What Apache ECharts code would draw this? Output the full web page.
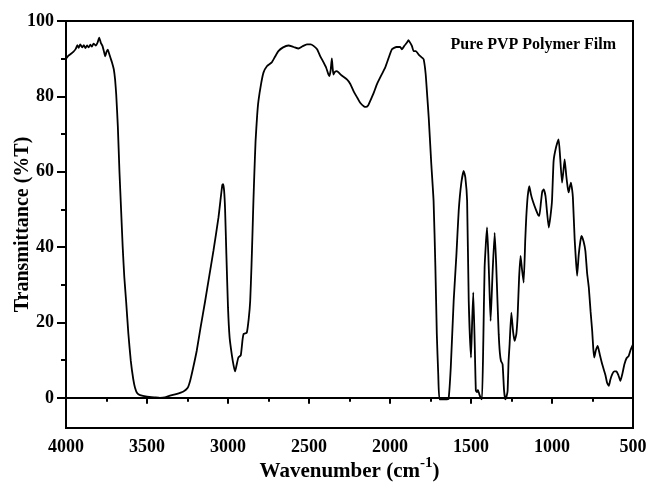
<!DOCTYPE html>
<html>
<head>
<meta charset="utf-8">
<script src="https://cdn.jsdelivr.net/npm/echarts@6/dist/echarts.min.js"></script>
<style>
html,body{margin:0;padding:0;background:#fff;}
#c{width:648px;height:491px;}
</style>
</head>
<body>
<div id="c"></div>
<script>
const wavenumbers = [
4000,3985,3970,3955,3940,3930,3922,3912,3900,3890,3880,3870,3860,3850,3840,3830,3815,3805,3795,3785,3775,3765,3758,3750,3742,3735,3726,3716,3705,3697,3690,3680,3670,3660,3650,3640,3629,3615,3600,3585,3574,3560,3543,3500,3450,3420,3390,3358,3320,3275,3250,3234,3215,3193,3170,3141,3115,3090,3059,3045,3035,3030,3024,3018,3010,3000,2990,2975,2965,2956,2948,2936,2921,2910,2903,2884,2872,2863,2855,2849,2843,2837,2830,2820,2812,2795,2781,2760,2730,2710,2689,2660,2627,2595,2565,2540,2513,2490,2472,2450,2431,2410,2394,2380,2374,2366,2359,2354,2349,2340,2328,2300,2266,2245,2225,2200,2184,2160,2149,2135,2122,2100,2081,2055,2030,2010,1988,1960,1937,1927,1910,1895,1886,1875,1865,1854,1840,1823,1800,1792,1780,1770,1761,1745,1731,1720,1711,1702,1694,1660,1639,1625,1607,1590,1576,1560,1545,1535,1524,1514,1500,1493,1486,1477,1470,1463,1457,1449,1440,1432,1424,1416,1401,1393,1387,1379,1367,1354,1345,1336,1329,1322,1315,1305,1296,1288,1280,1274,1268,1262,1251,1240,1231,1220,1212,1203,1194,1185,1175,1165,1159,1150,1140,1130,1119,1100,1085,1078,1068,1060,1051,1040,1030,1020,1010,1000,990,975,959,950,938,930,922,912,903,897,890,883,875,871,860,853,845,835,825,818,805,794,783,773,762,752,745,739,730,718,705,690,670,660,649,640,628,615,602,590,578,565,553,540,527,515,500
];
const transmittance = [
90.0,90.8,91.3,91.8,92.6,93.6,92.9,93.8,93.0,93.6,92.8,93.5,93.0,93.7,93.2,94.0,93.5,94.3,95.6,94.2,93.4,91.8,90.6,91.8,92.4,91.5,90.3,89.0,87.2,84.5,80.5,72,60,50,40,32,25.7,17,9.8,5,2.7,1.2,0.7,0.3,0.1,0.0,0.1,0.6,1.0,1.7,2.6,4.5,8,12.5,18.5,25.7,32.5,39,47.8,53,56.5,56.7,55,50,38,24,16,11,8.5,7,8.5,10.7,11.3,15.5,17,17.3,21,25.7,35,43.4,52.3,60,68,75,78.8,83.5,86.3,88,89,90.5,92,93,93.5,93.1,92.7,93.3,93.8,93.8,93.4,92.5,90.7,89,87.6,85.8,85.4,87,90.1,87.5,85.8,86.5,86.7,85.6,84.5,83.3,81.4,79.5,78.3,77.3,77.2,77.6,78.8,81,83.2,85.5,87.6,90,92.5,93.1,93.1,92.5,93.5,94.3,94.9,94.2,93.4,92,92.0,91.1,90.2,89.8,86,80,74.4,62,52.3,35,16.9,6,-0.4,-0.4,-0.3,8,25.7,38,49.6,57,60.2,58.5,52.3,25.7,10.7,20,28,14.2,1.9,1.5,2.1,1.0,0.0,-0.4,15,34.6,45.2,38,30.2,20.4,33,43.8,36,25,16.9,12,9.8,8.9,2,-0.4,0.5,1.9,9.8,14,22.6,17.5,15.1,17,22,32,37.7,34,30.6,42,47.8,53.5,56.2,54,52.3,50,48.5,48.3,52,54.8,55.3,53.5,49,45.2,48,52.3,62.9,66.5,68.6,64,57.1,60,63.3,59,55.8,54.5,56,57.1,55,53.1,42,37,32.4,38,41.5,43,41.5,39,33,29.4,23,17.8,13,10.7,12.5,13.8,11.5,8.9,6,4,3.2,4.8,6.3,7,7,6,4.5,6.5,8.9,10.5,11.1,12.7,14.2
];
const yMajorTicks = [0, 20, 40, 60, 80, 100];
const yMinorTicks = [10, 30, 50, 70, 90];
const chartTitle = 'Pure PVP Polymer Film';
const xTitle = 'Wavenumber (cm';
const xTitleSup = '-1';
const yTitle = 'Transmittance (%T)';

const FONT = "'Liberation Serif','Times New Roman',serif";
const points = wavenumbers.map((w, i) => [w, transmittance[i]]);

const chart = echarts.init(document.getElementById('c'), null, {renderer: 'canvas'});
chart.setOption({
  backgroundColor: '#fff',
  animation: false,
  title: {
    text: chartTitle,
    right: 27, top: 32,
    textStyle: {fontFamily: FONT, fontWeight: 'bold', fontSize: 16, color: '#000'}
  },
  grid: {left: 66, right: 15, top: 21, bottom: 63, show: true, borderColor: '#000', borderWidth: 2, backgroundColor: 'transparent', containLabel: false, outerBoundsMode: 'none'},
  xAxis: [{
    type: 'value', inverse: true, min: 500, max: 4000, interval: 500,
    position: 'bottom',
    axisLine: {show: true, lineStyle: {color: '#000', width: 2}},
    axisTick: {show: true, length: 6, lineStyle: {color: '#000', width: 2}},
    minorTick: {show: true, splitNumber: 2, length: 4, lineStyle: {color: '#000', width: 2}},
    splitLine: {show: false},
    axisLabel: {fontFamily: FONT, fontWeight: 'bold', fontSize: 18, color: '#000', margin: 10, formatter: v => String(v)},
    name: '{a|' + xTitle + '}{s|' + xTitleSup + '}{a|)}',
    nameLocation: 'middle', nameGap: 28, nameMoveOverlap: false,
    nameTextStyle: {
      rich: {
        a: {fontFamily: FONT, fontWeight: 'bold', fontSize: 21, color: '#000', verticalAlign: 'bottom', lineHeight: 26},
        s: {fontFamily: FONT, fontWeight: 'bold', fontSize: 15, color: '#000', verticalAlign: 'top', lineHeight: 26, padding: [0, 0, 12, 0]}
      }
    }
  }],
  yAxis: [{
    type: 'value', min: -8, max: 100,
    axisLine: {show: true, lineStyle: {color: '#000', width: 2}},
    axisTick: {show: true, length: 9, customValues: yMajorTicks, lineStyle: {color: '#000', width: 2}},
    splitLine: {show: false},
    axisLabel: {customValues: yMajorTicks, fontFamily: FONT, fontWeight: 'bold', fontSize: 18, color: '#000', margin: 12, formatter: v => String(v)},
    name: yTitle, nameLocation: 'middle', nameGap: 33, nameMoveOverlap: false,
    nameTextStyle: {fontFamily: FONT, fontWeight: 'bold', fontSize: 20, color: '#000'}
  }, {
    type: 'value', min: -8, max: 100, position: 'left',
    axisLine: {show: false},
    axisTick: {show: true, length: 5, customValues: yMinorTicks, lineStyle: {color: '#000', width: 2}},
    axisLabel: {show: false},
    splitLine: {show: false}
  }],
  series: [{
    type: 'line',
    data: points,
    showSymbol: false,
    smooth: 0.15,
    lineStyle: {color: '#000', width: 1.8},
    xAxisIndex: 0, yAxisIndex: 0
  }]
});
</script>
</body>
</html>
